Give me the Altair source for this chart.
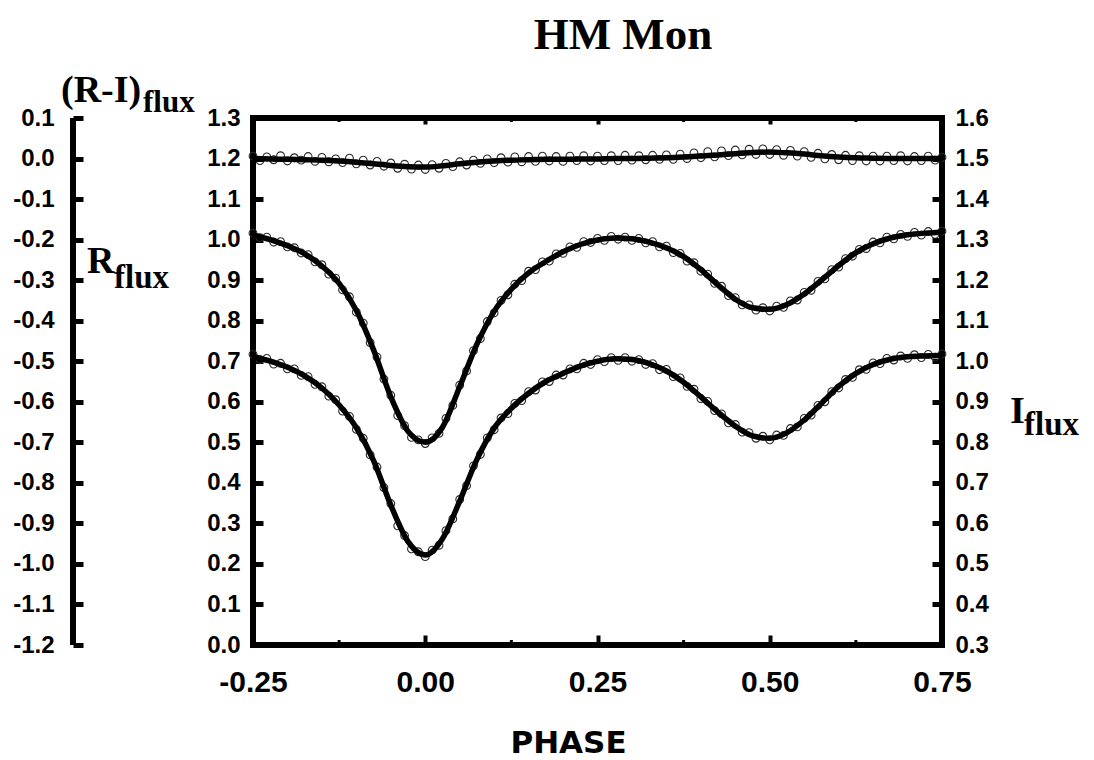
import altair as alt
import pandas as pd

# ---------------- data ----------------
X_DOMAIN = [-0.25, 0.75]
X_TICKS = [-0.25, 0.0, 0.25, 0.5, 0.75]
X_MINOR = [-0.125, 0.125, 0.375, 0.625]

R_DOMAIN = [0.0, 1.3]
R_TICKS = [0.0, 0.1, 0.2, 0.3, 0.4, 0.5, 0.6, 0.7, 0.8, 0.9, 1.0, 1.1, 1.2, 1.3]
I_DOMAIN = [0.3, 1.6]
I_TICKS = [0.3, 0.4, 0.5, 0.6, 0.7, 0.8, 0.9, 1.0, 1.1, 1.2, 1.3, 1.4, 1.5, 1.6]
RI_DOMAIN = [-1.2, 0.1]
RI_TICKS = [-1.2, -1.1, -1.0, -0.9, -0.8, -0.7, -0.6, -0.5, -0.4, -0.3, -0.2, -0.1, 0.0, 0.1]

# observation phases (sampling grid, step 0.01)
PHASE_OBS = [round(-0.25 + 0.01 * i, 2) for i in range(101)]

R_OBS = [
    1.016, 1.005, 1.006, 0.994, 0.995, 0.982, 0.980, 0.967, 0.963, 0.945,
    0.938, 0.915, 0.905, 0.876, 0.859, 0.821, 0.794, 0.746, 0.710, 0.656,
    0.616, 0.566, 0.541, 0.512, 0.506, 0.497, 0.511, 0.522, 0.559, 0.591,
    0.641, 0.676, 0.726, 0.756, 0.798, 0.819, 0.850, 0.864, 0.890, 0.899,
    0.922, 0.926, 0.945, 0.947, 0.965, 0.966, 0.982, 0.981, 0.995, 0.993,
    1.003, 0.998, 1.008, 1.001, 1.006, 0.998, 1.003, 0.992, 0.995, 0.982,
    0.984, 0.968, 0.966, 0.947, 0.943, 0.922, 0.915, 0.892, 0.885, 0.862,
    0.857, 0.839, 0.839, 0.826, 0.832, 0.824, 0.836, 0.833, 0.849, 0.851,
    0.870, 0.875, 0.897, 0.903, 0.926, 0.932, 0.953, 0.959, 0.976, 0.978,
    0.994, 0.992, 1.006, 1.002, 1.013, 1.008, 1.018, 1.011, 1.020, 1.013,
    1.021,
]

I_OBS = [
    1.017, 1.004, 1.007, 0.993, 0.995, 0.981, 0.981, 0.965, 0.962, 0.943,
    0.937, 0.914, 0.905, 0.877, 0.864, 0.832, 0.810, 0.769, 0.739, 0.688,
    0.649, 0.594, 0.570, 0.537, 0.530, 0.518, 0.534, 0.546, 0.582, 0.611,
    0.659, 0.693, 0.742, 0.770, 0.811, 0.831, 0.860, 0.871, 0.896, 0.903,
    0.925, 0.929, 0.949, 0.950, 0.966, 0.966, 0.981, 0.981, 0.995, 0.992,
    1.004, 0.999, 1.009, 1.002, 1.009, 1.000, 1.004, 0.992, 0.994, 0.979,
    0.980, 0.962, 0.959, 0.938, 0.931, 0.908, 0.901, 0.878, 0.870, 0.848,
    0.844, 0.825, 0.824, 0.810, 0.815, 0.806, 0.818, 0.817, 0.834, 0.838,
    0.859, 0.867, 0.891, 0.900, 0.925, 0.934, 0.955, 0.960, 0.979, 0.980,
    0.996, 0.994, 1.007, 1.003, 1.013, 1.007, 1.016, 1.009, 1.017, 1.010,
    1.018,
]

RI_OBS = [
    0.006, -0.005, 0.004, -0.003, 0.007, -0.006, 0.002, -0.004, 0.005, -0.007,
    0.003, -0.008, -0.001, -0.010, 0.001, -0.013, -0.004, -0.016, -0.007, -0.019,
    -0.011, -0.024, -0.014, -0.026, -0.016, -0.027, -0.015, -0.024, -0.012, -0.020,
    -0.008, -0.016, -0.004, -0.012, -0.001, -0.010, 0.002, -0.009, 0.004, -0.008,
    0.005, -0.007, 0.006, -0.006, 0.005, -0.007, 0.006, -0.005, 0.007, -0.006,
    0.006, -0.005, 0.007, -0.005, 0.008, -0.004, 0.007, -0.003, 0.008, -0.002,
    0.009, -0.002, 0.011, 0.000, 0.014, 0.002, 0.017, 0.004, 0.019, 0.007,
    0.021, 0.009, 0.023, 0.010, 0.024, 0.010, 0.022, 0.008, 0.020, 0.006,
    0.017, 0.003, 0.013, -0.001, 0.010, -0.003, 0.008, -0.005, 0.007, -0.006,
    0.006, -0.006, 0.006, -0.005, 0.007, -0.006, 0.005, -0.005, 0.006, -0.004,
    0.003,
]

# fitted light curves (step 0.025)
PHASE_FIT = [
    -0.250, -0.225, -0.200, -0.175, -0.150, -0.125, -0.100, -0.075, -0.050, -0.025,
    0.000, 0.025, 0.050, 0.075, 0.100, 0.125, 0.150, 0.175, 0.200, 0.225,
    0.250, 0.275, 0.300, 0.325, 0.350, 0.375, 0.400, 0.425, 0.450, 0.475,
    0.500, 0.525, 0.550, 0.575, 0.600, 0.625, 0.650, 0.675, 0.700, 0.725,
    0.750,
]
R_FIT = [
    1.012, 1.000, 0.985, 0.965, 0.935, 0.892, 0.825, 0.728, 0.612, 0.527,
    0.500, 0.537, 0.637, 0.742, 0.823, 0.878, 0.918, 0.946, 0.970, 0.988,
    0.999, 1.004, 1.002, 0.994, 0.980, 0.958, 0.926, 0.888, 0.853, 0.832,
    0.828, 0.840, 0.866, 0.900, 0.936, 0.968, 0.990, 1.004, 1.012, 1.016,
    1.018,
]
I_FIT = [
    1.012, 1.000, 0.985, 0.964, 0.934, 0.892, 0.836, 0.755, 0.645, 0.555,
    0.522, 0.562, 0.655, 0.758, 0.835, 0.884, 0.921, 0.950, 0.970, 0.988,
    1.000, 1.006, 1.004, 0.994, 0.976, 0.948, 0.912, 0.874, 0.840, 0.816,
    0.810, 0.824, 0.855, 0.896, 0.938, 0.970, 0.992, 1.005, 1.011, 1.013,
    1.014,
]
RI_FIT = [
    0.000, -0.001, -0.002, -0.003, -0.004, -0.006, -0.009, -0.013, -0.017, -0.020,
    -0.021, -0.018, -0.013, -0.009, -0.006, -0.004, -0.003, -0.002, -0.002, -0.001,
    -0.001, 0.000, 0.000, 0.001, 0.002, 0.004, 0.006, 0.009, 0.012, 0.015,
    0.016, 0.014, 0.011, 0.007, 0.004, 0.002, 0.001, 0.000, 0.000, 0.000,
    0.000,
]

obs_df = pd.DataFrame({"phase": PHASE_OBS, "R": R_OBS, "I": I_OBS, "RI": RI_OBS})
fit_df = pd.DataFrame({"phase": PHASE_FIT, "R": R_FIT, "I": I_FIT, "RI": RI_FIT})

# ---------------- styling ----------------
W, H = 689, 527
LABEL_FONT = "Liberation Sans"
SERIF = "Liberation Serif"


def fix_minus(fmt):
    return "replace(format(datum.value, '%s'), '\u2212', '-')" % fmt


x_scale = alt.Scale(domain=X_DOMAIN, nice=False, zero=False)
yR = alt.Scale(domain=R_DOMAIN, nice=False, zero=False)
yI = alt.Scale(domain=I_DOMAIN, nice=False, zero=False)
yRI = alt.Scale(domain=RI_DOMAIN, nice=False, zero=False)

common_y = dict(domain=False, grid=False, tickSize=10, tickWidth=5, tickColor="black",
                labelFont=LABEL_FONT, labelFontWeight="bold", labelFontSize=24,
                labelColor="black", labelFlush=False, labelOverlap=False,
                labelBound=False, title=None)

x_axis_bottom = alt.Axis(
    orient="bottom", values=X_TICKS, offset=-10, tickSize=10, tickWidth=4,
    tickColor="black", domain=False, grid=False,
    labelFont=LABEL_FONT, labelFontWeight="bold", labelFontSize=30, labelColor="black",
    labelPadding=22, labelFlush=False, labelOverlap=False, labelExpr=fix_minus(".2f"),
    title="PHASE", titleFont="DejaVu Sans", titleFontWeight="bold", titleFontSize=31,
    titleColor="black", titleX=315, titleY=117, titleAlign="center",
    titleBaseline="alphabetic", titleAnchor="start",
)
x_axis_top = alt.Axis(
    orient="top", values=X_TICKS, offset=-6, tickSize=6, tickWidth=4,
    tickColor="black", domain=False, grid=False, labels=False, title=None,
)
y_axis_R = alt.Axis(orient="left", values=R_TICKS, offset=-10, labelPadding=13,
                    labelExpr=fix_minus(".1f"), **common_y)
y_axis_I = alt.Axis(orient="right", values=I_TICKS, offset=-10, labelPadding=13,
                    labelExpr=fix_minus(".1f"), **common_y)
y_axis_RI = alt.Axis(orient="left", values=RI_TICKS, offset=170, labelPadding=19,
                     labelExpr=fix_minus(".1f"), **common_y)

point_style = dict(shape="circle", filled=False, size=60, color="#2a2a2a",
                   strokeWidth=1.1, opacity=1)
line_style = dict(color="black", strokeWidth=5.5, interpolate="monotone")

obs = alt.Chart(obs_df)
fit = alt.Chart(fit_df)

# R flux (left axis) -- both children carry the same axes so they merge
xb = alt.X("phase:Q", scale=x_scale, axis=x_axis_bottom)
r_pts = obs.mark_point(**point_style).encode(
    x=xb, y=alt.Y("R:Q", scale=yR, axis=y_axis_R),
)
r_fit = fit.mark_line(**line_style).encode(
    x=xb, y=alt.Y("R:Q", scale=yR, axis=y_axis_R),
)
layer_R = alt.layer(r_pts, r_fit)

# I flux (right axis)
xt = alt.X("phase:Q", scale=x_scale, axis=x_axis_top)
i_pts = obs.mark_point(**point_style).encode(
    x=xt, y=alt.Y("I:Q", scale=yI, axis=y_axis_I),
)
i_fit = fit.mark_line(**line_style).encode(
    x=xt, y=alt.Y("I:Q", scale=yI, axis=y_axis_I),
)
layer_I = alt.layer(i_pts, i_fit)

# (R-I) flux (detached far-left axis)
xn = alt.X("phase:Q", scale=x_scale, axis=None)
ri_axis_line = alt.Chart(pd.DataFrame({"lo": [RI_DOMAIN[0]], "hi": [RI_DOMAIN[1]]})).mark_rule(
    color="black", strokeWidth=6
).encode(
    x=alt.value(-180),
    y=alt.Y("lo:Q", scale=yRI, axis=y_axis_RI),
    y2="hi:Q",
)
ri_pts = obs.mark_point(**point_style).encode(
    x=xn, y=alt.Y("RI:Q", scale=yRI, axis=y_axis_RI),
)
ri_fit = fit.mark_line(**line_style).encode(
    x=xn, y=alt.Y("RI:Q", scale=yRI, axis=y_axis_RI),
)
layer_RI = alt.layer(ri_axis_line, ri_pts, ri_fit)

# minor phase ticks (bottom and top, pointing inward)
minor_df = pd.DataFrame({"phase": X_MINOR})
minor_bottom = alt.Chart(minor_df).mark_rule(color="black", strokeWidth=3).encode(
    x=xn, y=alt.value(H), y2=alt.value(H - 5),
)
minor_top = alt.Chart(minor_df).mark_rule(color="black", strokeWidth=3).encode(
    x=xn, y=alt.value(0), y2=alt.value(4),
)


def label(text, x, y, size, align="left"):
    return alt.Chart(pd.DataFrame({"t": [text]})).mark_text(
        font=SERIF, fontWeight="bold", fontSize=size, color="black",
        align=align, baseline="alphabetic",
    ).encode(text="t:N", x=alt.value(x), y=alt.value(y))


texts = [
    label("HM Mon", 370, -69, 45, align="center"),
    label("(R-I)", -192, -16, 38),
    label("flux", -110, -6, 31),
    label("R", -166, 155, 38),
    label("flux", -139, 170, 33),
    label("I", 757, 305, 38),
    label("flux", 771, 317, 33),
]

chart = alt.layer(
    layer_R, layer_I, layer_RI, minor_bottom, minor_top, *texts
).resolve_scale(
    y="independent"
).properties(
    width=W, height=H,
    autosize=alt.AutoSizeParams(type="none"),
    padding={"left": 245, "top": 110, "right": 144, "bottom": 115},
    background="white",
).configure_view(
    stroke="black", strokeWidth=6
)

chart.save("out.html", embed_options={"renderer": "svg", "actions": False})
